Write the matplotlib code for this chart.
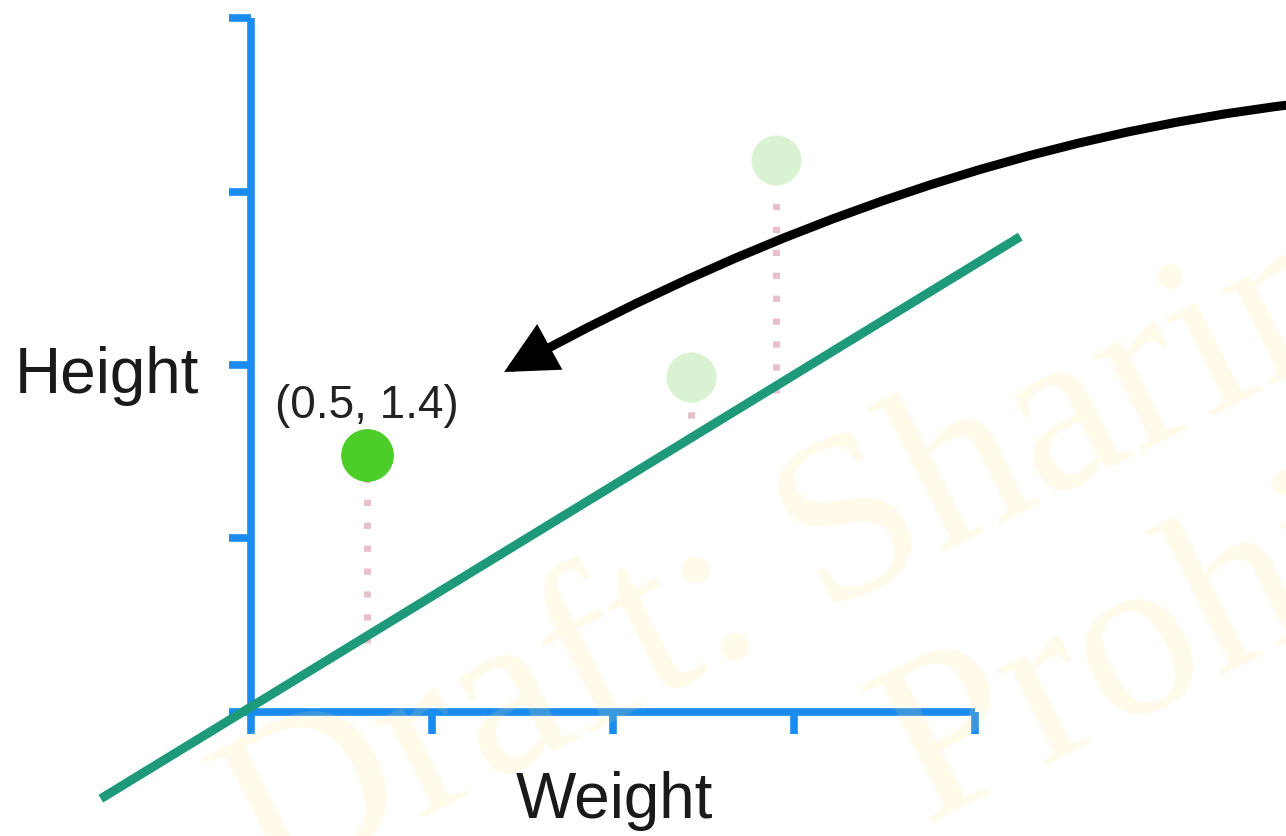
import numpy as np
import matplotlib
matplotlib.use('Agg')
import matplotlib.pyplot as plt
from matplotlib.patches import FancyArrowPatch
from matplotlib.path import Path

# [Step 1] Data (axis units = tick spacing)
ticks = [0, 1, 2, 3, 4]
point_x = [0.64]          # highlighted sample
point_y = [1.48]
faded_x = [2.43, 2.90]    # other samples, greyed out
faded_y = [1.93, 3.18]
line_x = [-0.83, 4.25]    # fitted line endpoints
line_y = [-0.50, 2.74]
resid_x = [0.64, 2.43, 2.90]     # dotted residual segments
resid_top = [1.36, 1.80, 3.02]
resid_bottom = [0.40, 1.56, 1.84]
point_label = '(0.5, 1.4)'

blue = '#1a8cf0'
teal = '#1e9a7b'

# [Step 2] Figure with an axes covering the whole canvas
fig = plt.figure(figsize=(12.86, 8.36), dpi=100)
ax = fig.add_axes([0, 0, 1, 1])
ax.set_xlim(-1.387, 5.718)
ax.set_ylim(-0.715, 4.104)

# blue axes through the origin
for side in ['top', 'right']:
    ax.spines[side].set_visible(False)
for side in ['left', 'bottom']:
    ax.spines[side].set_position(('data', 0))
    ax.spines[side].set_color(blue)
    ax.spines[side].set_linewidth(5.5)
    ax.spines[side].set_capstyle('butt')
ax.spines['left'].set_bounds(0, 4)
ax.spines['bottom'].set_bounds(0, 4)
ax.set_xticks(ticks)
ax.set_yticks(ticks)
ax.tick_params(direction='out', length=16, width=5.5, color=blue,
               labelbottom=False, labelleft=False)
ax.set_facecolor('none')

# [Step 3] Residuals, line and points
for x, top, bottom in zip(resid_x, resid_top, resid_bottom):
    ax.plot([x, x], [bottom, top], color='#e8c0c8', lw=5,
            linestyle=(0, (0.9, 2.4)), solid_capstyle='butt', zorder=2)
ax.plot(line_x, line_y, color=teal, lw=6.5, solid_capstyle='butt', zorder=4)
ax.plot(faded_x, faded_y, 'o', ms=36, color='#d9f2d2', mec='none', zorder=5)
ax.plot(point_x, point_y, 'o', ms=38, color='#4ccd2a', mec='none', zorder=5)

ax.annotate(point_label, xy=(point_x[0], point_y[0]), xytext=(0, 27),
            textcoords='offset points', ha='center', va='baseline',
            fontsize=33, family='Liberation Sans', color='#222222')

# [Step 4] Axis titles
fig.text(0.0117, 0.530, 'Height', fontsize=46, family='Liberation Sans',
         ha='left', va='baseline', color='#1a1a1a')
fig.text(0.478, 0.0215, 'Weight', fontsize=46, family='Liberation Sans',
         ha='center', va='baseline', color='#1a1a1a')

# curved arrow pointing at the label
arrow_path = Path([(1.01, 0.876), (0.706, 0.821), (0.392, 0.555)],
                  [Path.MOVETO, Path.CURVE3, Path.CURVE3])
arrow = FancyArrowPatch(path=arrow_path, transform=fig.transFigure,
                        arrowstyle='-|>,head_length=0.9,head_width=0.45',
                        mutation_scale=30, lw=6.5, color='black',
                        joinstyle='miter', zorder=6)
fig.add_artist(arrow)

# [Step 5] Faint watermark laid over everything
wm = dict(family='Liberation Serif', fontsize=170, color='#ffe070', alpha=0.15,
          rotation=27, rotation_mode='anchor', ha='left', va='baseline', zorder=10)
fig.text(0.208, -0.0727, 'Draft: Sharing', **wm)
fig.text(0.719, 0.0144, 'Prohibited', **wm)

plt.savefig('out.png', dpi=100)
